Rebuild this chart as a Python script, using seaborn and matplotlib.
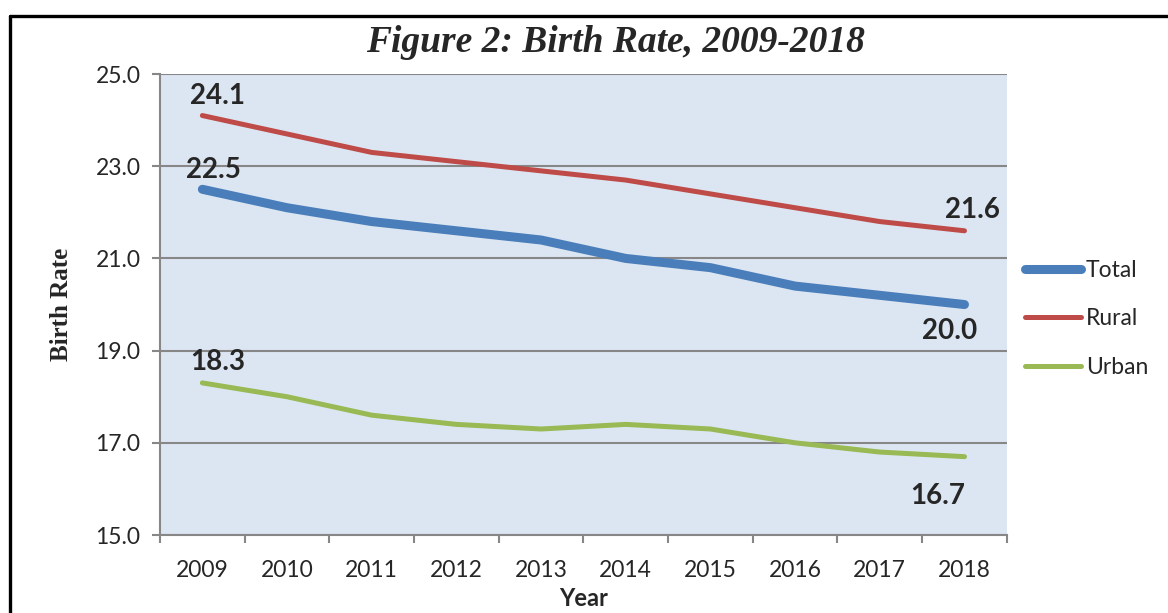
import matplotlib
matplotlib.use("Agg")
import matplotlib.pyplot as plt
from matplotlib.lines import Line2D
from matplotlib.ticker import FixedLocator
import numpy as np
import pandas as pd
import seaborn as sns

# ── Data ──────────────────────────────────────────────────────────────────────
years = [2009, 2010, 2011, 2012, 2013, 2014, 2015, 2016, 2017, 2018]
total = [22.5, 22.1, 21.8, 21.6, 21.4, 21.0, 20.8, 20.4, 20.2, 20.0]
rural = [24.1, 23.7, 23.3, 23.1, 22.9, 22.7, 22.4, 22.1, 21.8, 21.6]
urban = [18.3, 18.0, 17.6, 17.4, 17.3, 17.4, 17.3, 17.0, 16.8, 16.7]
series_names = ["Total", "Rural", "Urban"]
y_ticks = [15.0, 17.0, 19.0, 21.0, 23.0, 25.0]

df = pd.DataFrame({
    "Year": years * 3,
    "Rate": total + rural + urban,
    "Area": np.repeat(series_names, len(years)),
})

colors = {"Total": "#4A7EBB", "Rural": "#BE4B48", "Urban": "#98B954"}
widths = {"Total": 6.5, "Rural": 3.6, "Urban": 3.6}

# ── Plot ──────────────────────────────────────────────────────────────────────
sns.set_style("white")
plt.rcParams["font.family"] = ["Lato", "DejaVu Sans"]

fig = plt.figure(figsize=(11.68, 6.13), dpi=100)
ax = fig.add_axes([0.137, 0.1272, 0.725, 0.7520])
ax.set_facecolor("#DCE6F2")

for name in series_names:
    sns.lineplot(data=df[df["Area"] == name], x="Year", y="Rate",
                 color=colors[name], linewidth=widths[name],
                 solid_capstyle="round", solid_joinstyle="round",
                 label=name, ax=ax, zorder=3)

ax.set_xlim(years[0] - 0.5, years[-1] + 0.5)
ax.set_ylim(15, 25)
ax.set_yticks(y_ticks)
ax.set_yticklabels([f"{v:.1f}" for v in y_ticks], fontsize=16.5)
ax.set_xticks(years)
ax.set_xticklabels([str(y) for y in years], fontsize=16.5)
ax.xaxis.set_minor_locator(FixedLocator(np.arange(years[0] - 0.5, years[-1] + 1, 1)))
ax.tick_params(axis="x", which="major", length=0, pad=18)
ax.tick_params(axis="x", which="minor", length=6, width=1.5, color="#878787",
               direction="out", bottom=True)
ax.tick_params(axis="y", which="major", length=6, width=1.5, color="#878787",
               direction="out", left=True, pad=8)

ax.grid(axis="y", color="#878787", linewidth=1.5, zorder=1)
ax.set_axisbelow(True)
for side in ["top", "right"]:
    ax.spines[side].set_visible(False)
for side in ["left", "bottom"]:
    ax.spines[side].set_color("#878787")
    ax.spines[side].set_linewidth(1.5)

ax.set_xlabel("Year", fontsize=17, fontweight="bold", labelpad=4)
ax.set_ylabel("Birth Rate", fontsize=18, fontweight="bold",
              family="Liberation Serif", labelpad=16)

fig.text(0.527, 0.93, "Figure 2: Birth Rate, 2009-2018", ha="center", va="center",
         fontsize=27, fontweight="bold", fontstyle="italic", family="Liberation Serif")

# ── Data labels ───────────────────────────────────────────────────────────────
labels = [
    (years[0], rural[0], (11, 14)),
    (years[0], total[0], (8, 14)),
    (years[0], urban[0], (11, 15)),
    (years[-1], rural[-1], (6, 15)),
    (years[-1], total[-1], (-11, -19)),
    (years[-1], urban[-1], (-19, -28)),
]
for x, y, off in labels:
    ax.annotate(f"{y:.1f}", (x, y), xytext=off, textcoords="offset points",
                ha="center", va="center", fontsize=20, fontweight="bold", zorder=4)

# ── Legend ────────────────────────────────────────────────────────────────────
leg = ax.legend(loc="center left", bbox_to_anchor=(1.0106, 0.469), frameon=False,
                borderaxespad=0, fontsize=16.5, handlelength=2.45, handletextpad=0.2,
                labelspacing=1.2)

# ── Figure border (left and top) ──────────────────────────────────────────────
fig.add_artist(Line2D([10 / 1168, 10 / 1168], [0, 1 - 16 / 613], color="black",
                      linewidth=2.4, transform=fig.transFigure))
fig.add_artist(Line2D([10 / 1168, 1], [1 - 16 / 613, 1 - 16 / 613], color="black",
                      linewidth=2.4, transform=fig.transFigure))

fig.savefig("out.png", dpi=100)
